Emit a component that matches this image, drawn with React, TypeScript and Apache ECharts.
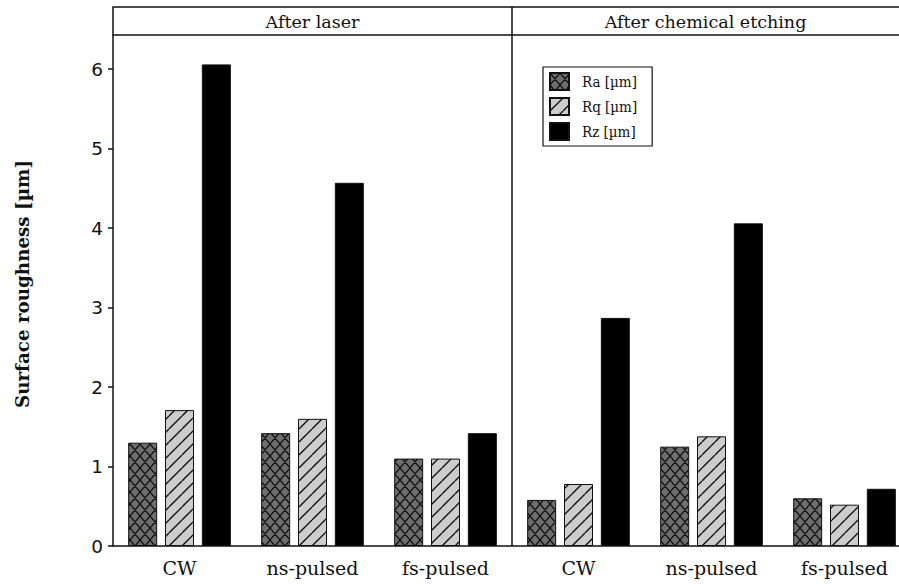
import React, { useEffect, useRef } from "react";
import * as echarts from "echarts";

const categories = ["CW", "ns-pulsed", "fs-pulsed", "CW", "ns-pulsed", "fs-pulsed"];
const panelTitles = ["After laser", "After chemical etching"];
const seriesNames = ["Ra [µm]", "Rq [µm]", "Rz [µm]"];
const raValues = [1.3, 1.42, 1.1, 0.58, 1.25, 0.6];
const rqValues = [1.71, 1.6, 1.1, 0.78, 1.38, 0.52];
const rzValues = [6.06, 4.57, 1.42, 2.87, 4.06, 0.72];
const yTicks = [0, 1, 2, 3, 4, 5, 6];
const yAxisTitle = "Surface roughness [µm]";

const VIEW_W = 899;
const H = 584;
const GRID_LEFT = 113;
const GRID_TOP = 35;
const GRID_BOTTOM_Y = 546;
const BAND = 133;
const CHART_W = GRID_LEFT + BAND * 6;
const FRAME_TOP = 7;
const INK = "#111";

function crossPattern() {
  const w = 10, h = 12;
  const c = document.createElement("canvas");
  c.width = w; c.height = h;
  const ctx = c.getContext("2d")!;
  ctx.fillStyle = "#6e6e6e";
  ctx.fillRect(0, 0, w, h);
  ctx.strokeStyle = INK;
  ctx.lineWidth = 1.3;
  ctx.beginPath();
  for (const k of [-1, 0, 1]) {
    ctx.moveTo(k * w, 0); ctx.lineTo(k * w + w, h);
    ctx.moveTo(k * w + w, 0); ctx.lineTo(k * w, h);
  }
  ctx.stroke();
  return { image: c, repeat: "repeat", imageWidth: w, imageHeight: h };
}

function slashPattern() {
  const w = 13, h = 13;
  const c = document.createElement("canvas");
  c.width = w; c.height = h;
  const ctx = c.getContext("2d")!;
  ctx.fillStyle = "#cdcdcd";
  ctx.fillRect(0, 0, w, h);
  ctx.strokeStyle = INK;
  ctx.lineWidth = 1.4;
  ctx.beginPath();
  for (const k of [-1, 0, 1]) {
    ctx.moveTo(k * w, h); ctx.lineTo(k * w + w, 0);
  }
  ctx.stroke();
  return { image: c, repeat: "repeat", imageWidth: w, imageHeight: h };
}

export default function App() {
  const ref = useRef<HTMLDivElement>(null);
  useEffect(() => {
    document.body.style.margin = "0";
    document.body.style.overflow = "hidden";
    document.documentElement.style.overflow = "hidden";
    const chart = echarts.init(ref.current!, null, { renderer: "svg" });
    const yMax = (GRID_BOTTOM_Y - GRID_TOP) / 79.47;
    const divX = GRID_LEFT + BAND * 3;
    const barCommon = {
      type: "bar",
      barWidth: 29,
      barGap: "27%",
    };
    chart.setOption({
      animation: false,
      backgroundColor: "#fff",
      grid: { left: GRID_LEFT, top: GRID_TOP, right: 0, bottom: H - GRID_BOTTOM_Y },
      legend: {
        orient: "vertical",
        left: 543,
        top: 67,
        itemWidth: 19,
        itemHeight: 17,
        itemGap: 6,
        padding: [5, 15, 5, 6],
        borderColor: INK,
        borderWidth: 1.2,
        backgroundColor: "#fff",
        icon: "rect",
        textStyle: {
          fontFamily: "'DejaVu Serif Condensed', 'DejaVu Serif'",
          fontSize: 15, lineHeight: 18, color: INK, padding: [0, 0, 0, 8],
        },
        data: seriesNames,
      },
      xAxis: {
        type: "category",
        data: categories,
        axisLine: { lineStyle: { color: INK, width: 1.5 } },
        axisTick: { alignWithLabel: true, length: 6, lineStyle: { color: INK, width: 1.5 } },
        axisLabel: { fontFamily: "DejaVu Serif", fontSize: 19, color: INK, margin: 12 },
      },
      yAxis: {
        type: "value",
        min: 0,
        max: yMax,
        interval: 1,
        axisLine: { show: true, lineStyle: { color: INK, width: 1.5 } },
        axisTick: { show: true, length: 5, lineStyle: { color: INK, width: 1.5 }, customValues: yTicks },
        axisLabel: { customValues: yTicks, fontFamily: "DejaVu Sans", fontSize: 18.5, color: INK, margin: 10 },
        splitLine: { show: false },
      },
      graphic: [
        {
          type: "rect",
          shape: { x: GRID_LEFT, y: FRAME_TOP, width: CHART_W, height: GRID_TOP - FRAME_TOP },
          style: { fill: "none", stroke: INK, lineWidth: 1.5 },
          z: 10,
        },
        {
          type: "line",
          shape: { x1: divX, y1: FRAME_TOP, x2: divX, y2: GRID_BOTTOM_Y },
          style: { stroke: INK, lineWidth: 1.5 },
          z: 10,
        },
        {
          type: "text",
          x: (GRID_LEFT + divX) / 2,
          y: (FRAME_TOP + GRID_TOP) / 2 + 1,
          style: {
            text: panelTitles[0], align: "center", verticalAlign: "middle",
            fontFamily: "DejaVu Serif", fontSize: 17.5, fill: INK,
          },
        },
        {
          type: "text",
          x: (divX + VIEW_W) / 2,
          y: (FRAME_TOP + GRID_TOP) / 2 + 1,
          style: {
            text: panelTitles[1], align: "center", verticalAlign: "middle",
            fontFamily: "DejaVu Serif", fontSize: 17.5, fill: INK,
          },
        },
        {
          type: "text",
          x: 22,
          y: 284,
          rotation: Math.PI / 2,
          style: {
            text: yAxisTitle, align: "center", verticalAlign: "middle",
            fontFamily: "DejaVu Serif", fontWeight: "bold", fontSize: 18.3, fill: INK,
          },
        },
      ],
      series: [
        { ...barCommon, name: seriesNames[0], data: raValues, itemStyle: { color: crossPattern(), borderColor: INK, borderWidth: 1 } },
        { ...barCommon, name: seriesNames[1], data: rqValues, itemStyle: { color: slashPattern(), borderColor: INK, borderWidth: 1 } },
        { ...barCommon, name: seriesNames[2], data: rzValues, itemStyle: { color: "#000", borderColor: INK, borderWidth: 1 } },
      ],
    });
    return () => chart.dispose();
  }, []);
  return <div ref={ref} style={{ width: CHART_W, height: H }} />;
}
